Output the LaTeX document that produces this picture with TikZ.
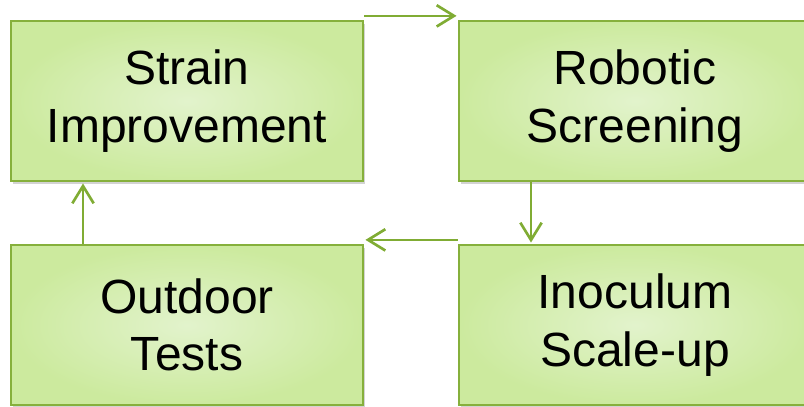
\documentclass[tikz,border=0pt]{standalone}
\usepackage{fontspec}
\setmainfont{Liberation Sans}
\usetikzlibrary{arrows.meta,shadows}
\definecolor{boxline}{RGB}{134,176,60}
\definecolor{arrowc}{RGB}{128,172,52}
\definecolor{boxin}{RGB}{226,243,204}
\definecolor{boxout}{RGB}{204,234,158}
\begin{document}
\begin{tikzpicture}[x=0.75pt,y=-0.75pt,
  stagebox/.style={draw=boxline, line width=1.7pt, inner color=boxin, outer color=boxout,
    minimum width=264pt, minimum height=120pt, inner sep=0pt, align=center,
    font=\fontsize{36}{43.2}\selectfont,
    drop shadow={opacity=0.35, shadow xshift=1.5pt, shadow yshift=-2.5pt}},
  flow/.style={draw=arrowc, line width=2pt, -{Straight Barb[length=13pt,width=16pt,line width=2pt]}}]
\useasboundingbox (0,0) rectangle (804,407);
\clip (0,0) rectangle (804,407);
\node[stagebox] (strain) at (187,101) {Strain\\Improvement};
\node[stagebox] (robot) at (635,101) {Robotic\\Screening};
\node[stagebox] (outdoor) at (187,325) {Outdoor\\Tests};
\node[stagebox] (inoc) at (635,325) {Inoculum\\Scale-up};
\coordinate (a1) at ([yshift=3pt]strain.north east);
\coordinate (a2) at ([xshift=-1pt,yshift=3pt]robot.north west);
\draw[flow] (a1) -- (a2);
\draw[flow] (robot.south -| 531,0) -- ([yshift=1pt]inoc.north -| 531,0);
\draw[flow] ([yshift=3pt]inoc.north west) -- ([xshift=1pt,yshift=3pt]outdoor.north east);
\draw[flow] (outdoor.north -| 83,0) -- ([yshift=-1pt]strain.south -| 83,0);
\end{tikzpicture}
\end{document}
